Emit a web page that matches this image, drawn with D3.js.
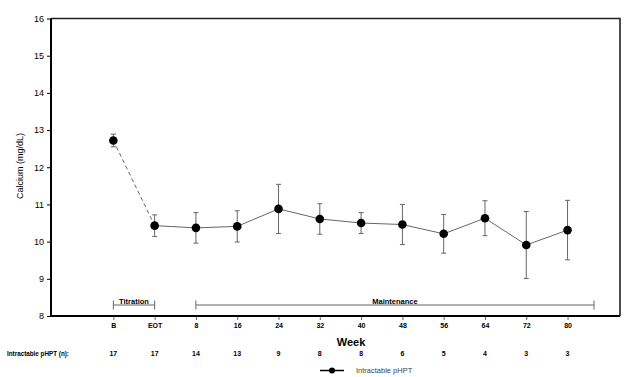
<!DOCTYPE html>
<html><head><meta charset="utf-8">
<script src="https://cdn.jsdelivr.net/npm/d3@7"></script>
<style>body{margin:0;background:#fff}svg{display:block}text{font-family:"Liberation Sans",Arial,sans-serif}</style>
</head><body>
<svg id="c" width="636" height="377"></svg>
<script>
const categories = ["B","EOT","8","16","24","32","40","48","56","64","72","80"];
const means = [12.72,10.43,10.37,10.41,10.88,10.61,10.50,10.46,10.21,10.63,9.91,10.31];
const errs  = [0.17,0.29,0.41,0.42,0.66,0.41,0.28,0.54,0.52,0.47,0.90,0.80];
const nCounts = [17,17,14,13,9,8,8,6,5,4,3,3];
const yTicks = [8,9,10,11,12,13,14,15,16];

const svg = d3.select("#c");
const L=51,R=620,T=18.5,B=316;
const x = d3.scaleLinear().domain([-1.51,12.27]).range([L,R]);
const y = d3.scaleLinear().domain([8,16]).range([B,T]);
const gray="#666";

// y axis
const ya = svg.append("g").attr("transform",`translate(${L},0)`)
  .call(d3.axisLeft(y).tickValues(yTicks).tickSize(4).tickPadding(3));
ya.select(".domain").remove();
ya.selectAll("line").attr("stroke","#000");
ya.selectAll("text").attr("font-size",9).attr("fill","#000");

// x axis ticks
const xa = svg.append("g").attr("transform",`translate(0,${B})`)
  .call(d3.axisBottom(x).tickValues(d3.range(categories.length)).tickFormat(i=>categories[i]).tickSize(4).tickPadding(3));
xa.select(".domain").remove();
xa.selectAll("line").attr("stroke",gray);
xa.selectAll("text").attr("font-size",7).attr("font-weight","bold").attr("fill","#000");

// frame
svg.append("path").attr("d",`M${L},${T}H${R}V${B}`).attr("fill","none").attr("stroke","#222").attr("stroke-width",1.6);
svg.append("path").attr("d",`M${L},${T}V${B}H${R}`).attr("fill","none").attr("stroke","#000").attr("stroke-width",2);

// brackets
function bracket(i0,xEnd,label){
  const yb=305, x0=x(i0), x1=xEnd;
  const g=svg.append("g").attr("stroke",gray).attr("stroke-width",1);
  g.append("line").attr("x1",x0).attr("x2",x1).attr("y1",yb).attr("y2",yb);
  g.append("line").attr("x1",x0).attr("x2",x0).attr("y1",yb-4.5).attr("y2",yb+4.5);
  g.append("line").attr("x1",x1).attr("x2",x1).attr("y1",yb-4.5).attr("y2",yb+4.5);
  svg.append("text").attr("x",(x0+x1)/2).attr("y",yb-1).attr("text-anchor","middle")
    .attr("font-size",7.5).attr("font-weight","bold").attr("fill","#000").text(label);
}
bracket(0,x(1),"Titration");
bracket(2,x(11.64),"Maintenance");

// lines
const line = d3.line().x(d=>x(d.i)).y(d=>y(d.v));
const pts = means.map((v,i)=>({i,v,e:errs[i]}));
svg.append("path").attr("d",line(pts.slice(0,2))).attr("fill","none").attr("stroke",gray).attr("stroke-width",1).attr("stroke-dasharray","4,3");
svg.append("path").attr("d",line(pts.slice(1))).attr("fill","none").attr("stroke",gray).attr("stroke-width",1);

// error bars
const eb = svg.append("g").attr("stroke",gray).attr("stroke-width",1);
pts.forEach(d=>{
  const cx=x(d.i);
  eb.append("line").attr("x1",cx).attr("x2",cx).attr("y1",y(d.v+d.e)).attr("y2",y(d.v-d.e));
  eb.append("line").attr("x1",cx-2.5).attr("x2",cx+2.5).attr("y1",y(d.v+d.e)).attr("y2",y(d.v+d.e));
  eb.append("line").attr("x1",cx-2.5).attr("x2",cx+2.5).attr("y1",y(d.v-d.e)).attr("y2",y(d.v-d.e));
});
svg.append("g").selectAll("circle").data(pts).join("circle")
  .attr("cx",d=>x(d.i)).attr("cy",d=>y(d.v)).attr("r",4.3).attr("fill","#000");

// labels
svg.append("text").attr("transform",`translate(23,166) rotate(-90)`).attr("text-anchor","middle")
  .attr("font-size",9).attr("fill","#000").text("Calcium (mg/dL)");
svg.append("text").attr("x",351).attr("y",346).attr("text-anchor","middle")
  .attr("font-size",11).attr("font-weight","bold").attr("fill","#000").text("Week");

// n row
svg.append("text").attr("x",7).attr("y",356).attr("font-size",6.3).attr("font-weight","bold").attr("fill","#000").text("Intractable pHPT (n):");
svg.append("g").selectAll("text").data(nCounts).join("text")
  .attr("x",(d,i)=>x(i)).attr("y",356).attr("text-anchor","middle")
  .attr("font-size",7).attr("font-weight","bold").attr("fill","#000").text(d=>d);

// legend
svg.append("line").attr("x1",320).attr("x2",344).attr("y1",370.5).attr("y2",370.5).attr("stroke","#000").attr("stroke-width",1.5);
svg.append("circle").attr("cx",332).attr("cy",370.5).attr("r",3).attr("fill","#000");
svg.append("text").attr("x",356).attr("y",373).attr("font-size",7.5).attr("fill","#444").text("Intractable pHPT");
</script>
</body></html>
